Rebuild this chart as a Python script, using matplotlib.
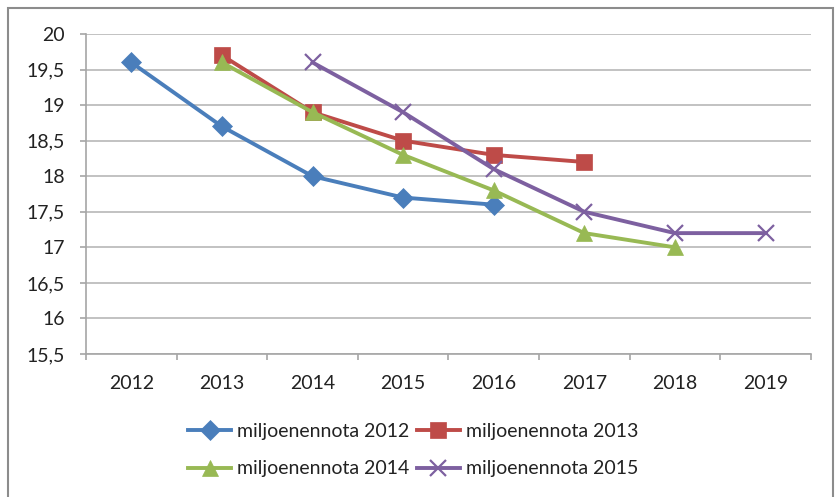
import matplotlib.pyplot as plt
from matplotlib.patches import Rectangle
from matplotlib.ticker import FuncFormatter, MultipleLocator

years = ["2012", "2013", "2014", "2015", "2016", "2017", "2018", "2019"]

# index of first year for each series, then its values
mn2012_start = 0
mn2012 = [19.6, 18.7, 18.0, 17.7, 17.6]
mn2013_start = 1
mn2013 = [19.7, 18.9, 18.5, 18.3, 18.2]
mn2014_start = 1
mn2014 = [19.6, 18.9, 18.3, 17.8, 17.2, 17.0]
mn2015_start = 2
mn2015 = [19.6, 18.9, 18.1, 17.5, 17.2, 17.2]

series = [
    ("miljoenennota 2012", mn2012_start, mn2012, "#4A7EBB", "D", 10),
    ("miljoenennota 2013", mn2013_start, mn2013, "#BE4B48", "s", 11),
    ("miljoenennota 2014", mn2014_start, mn2014, "#98B954", "^", 12),
    ("miljoenennota 2015", mn2015_start, mn2015, "#7D60A0", "x", 12),
]

plt.rcParams["font.family"] = ["Lato", "DejaVu Sans"]

fig = plt.figure(figsize=(8.38, 4.97), dpi=100)
ax = fig.add_axes([0.1026, 0.2877, 0.865, 0.6439])

lines = []
for name, start, vals, color, marker, ms in series:
    xs = list(range(start, start + len(vals)))
    ln, = ax.plot(xs, vals, color=color, lw=2.8, marker=marker, ms=ms,
                  mew=1.6 if marker == "x" else 0.5, mec=color, mfc=color, label=name)
    lines.append(ln)

ax.set_xlim(-0.5, len(years) - 0.5)
ax.set_ylim(15.5, 20)
ax.set_xticks(range(len(years)))
ax.set_xticklabels(years)
ax.set_xticks([i - 0.5 for i in range(len(years) + 1)], minor=True)
ax.yaxis.set_major_locator(MultipleLocator(0.5))
ax.yaxis.set_major_formatter(FuncFormatter(lambda v, p: f"{v:g}".replace(".", ",")))

ax.grid(axis="y", color="#BDBDBD", lw=1.3)
ax.set_axisbelow(True)
for s in ["top", "right"]:
    ax.spines[s].set_visible(False)
for s in ["left", "bottom"]:
    ax.spines[s].set_color("#A6A6A6")
    ax.spines[s].set_linewidth(1.2)

ax.tick_params(axis="x", which="major", length=0, pad=15, labelsize=14, colors="#222222")
ax.tick_params(axis="x", which="minor", length=4.5, width=1.2, color="#A6A6A6")
ax.tick_params(axis="y", length=4.5, width=1.2, color="#A6A6A6", pad=10.5,
               labelsize=14, labelcolor="#222222")

# row-wise legend order: 2012, 2013 / 2014, 2015
order = [0, 2, 1, 3]
leg = fig.legend([lines[i] for i in order], [lines[i].get_label() for i in order],
                 loc="center", bbox_to_anchor=(0.493, 0.094), ncol=2, frameon=False,
                 fontsize=14, handlelength=2.2, handletextpad=0.3, columnspacing=0.4,
                 labelspacing=1.05)
for t in leg.get_texts():
    t.set_color("#222222")

fig.patches.append(Rectangle((8 / 838, -0.05), 825 / 838, 1.05 - 8 / 497,
                             transform=fig.transFigure, fill=False,
                             ec="#8C8C8C", lw=1.5))

fig.savefig("out.png", dpi=100)
